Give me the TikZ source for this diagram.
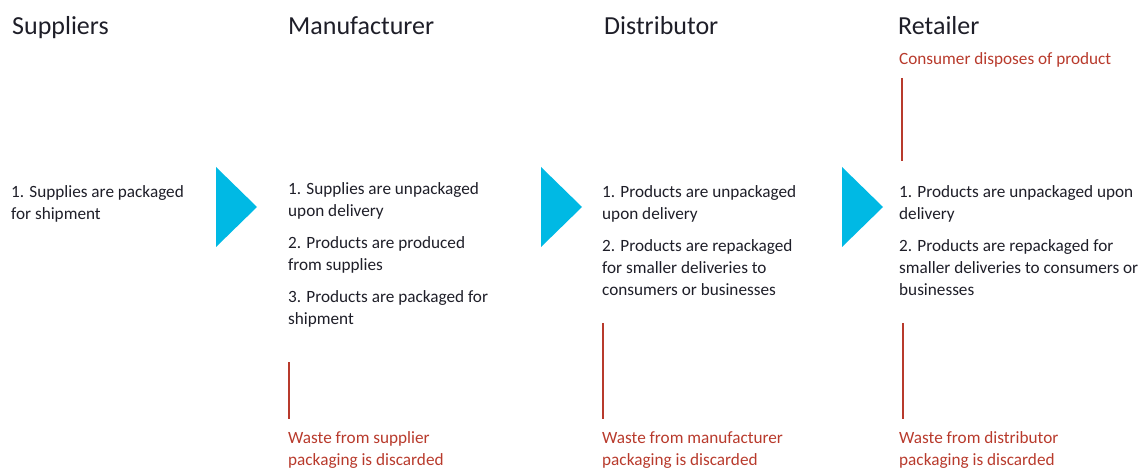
\documentclass[tikz,border=0pt]{standalone}
\usepackage{fontspec}
\setmainfont{Carlito}
\definecolor{arrowblue}{HTML}{00B9E4}
\definecolor{wastered}{HTML}{B83A2C}
\definecolor{textdark}{HTML}{1E1E28}
\begin{document}
\begin{tikzpicture}[x=1pt,y=-1pt,
    title/.style={anchor=base west,inner sep=0pt,font=\fontsize{26}{30}\selectfont,text=textdark},
    item/.style={anchor=base west,inner sep=0pt,align=left,font=\fontsize{17.2}{22}\selectfont,text=textdark},
    waste/.style={item,text=wastered},
    wasteline/.style={draw=wastered,line width=2.5pt}]
\useasboundingbox (0,0) rectangle (1146,470);
% column titles
\node [title] (suppliers) at (12,35) {Suppliers};
\node [title] (manufacturer) at (288,35) {Manufacturer};
\node [title] (distributor) at (604,35) {Distributor};
\node [title] (retailer) at (898,35) {Retailer};
% steps (placed at the baseline of their last line)
\node [item] (s1) at (11,220) {1. Supplies are packaged\\for shipment};
\node [item] (m1) at (288,217) {1. Supplies are unpackaged\\upon delivery};
\node [item] (m2) at (288,271) {2. Products are produced\\from supplies};
\node [item] (m3) at (288,325) {3. Products are packaged for\\shipment};
\node [item] (d1) at (602,220) {1. Products are unpackaged\\upon delivery};
\node [item] (d2) at (602,296) {2. Products are repackaged\\for smaller deliveries to\\consumers or businesses};
\node [item] (r1) at (899,220) {1. Products are unpackaged upon\\delivery};
\node [item] (r2) at (899,296) {2. Products are repackaged for\\smaller deliveries to consumers or\\businesses};
% arrows
\foreach \x in {216,541,842}
    \fill [arrowblue] (\x,167) -- (\x+41,207) -- (\x,247) -- cycle;
% waste
\node [waste] (consumer) at (899,65) {Consumer disposes of product};
\node [waste] (mwaste) at (288,465) {Waste from supplier\\packaging is discarded};
\node [waste] (dwaste) at (602,465) {Waste from manufacturer\\packaging is discarded};
\node [waste] (rwaste) at (899,465) {Waste from distributor\\packaging is discarded};
\coordinate (ctop) at (902,78);
\coordinate (cbot) at (902,161);
\coordinate (mtop) at (289,362);
\coordinate (dtop) at (603,323);
\coordinate (rtop) at (903,323);
\draw [wasteline] (ctop) -- (cbot);
\draw [wasteline] (mtop) -- (mtop |- 0,419);
\draw [wasteline] (dtop) -- (dtop |- 0,419);
\draw [wasteline] (rtop) -- (rtop |- 0,419);
\end{tikzpicture}
\end{document}
